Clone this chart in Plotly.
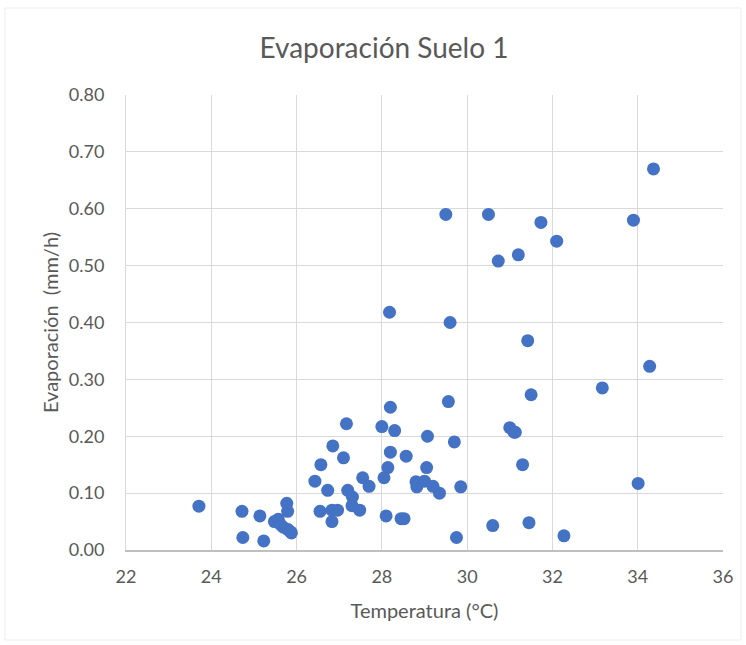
import plotly.graph_objects as go

temperatura = [23.71, 24.72, 24.74, 25.14, 25.23, 25.48, 25.57, 25.62, 25.69, 25.80, 25.86,
               25.77, 25.79, 25.88, 26.43, 26.57, 26.55, 26.73, 26.83, 26.83, 26.85, 26.96,
               27.10, 27.17, 27.20, 27.30, 27.31, 27.48, 27.55, 27.70, 28.00, 28.05, 28.14,
               28.10, 28.18, 28.20, 28.20, 28.30, 28.45, 28.52, 28.57, 28.80, 28.82, 29.00,
               29.05, 29.07, 29.20, 29.35, 29.50, 29.56, 29.60, 29.70, 29.75, 29.85, 30.50,
               30.60, 30.73, 31.00, 31.10, 31.13, 31.20, 31.30, 31.42, 31.45, 31.50, 31.73,
               32.10, 32.27, 33.17, 33.90, 34.01, 34.28, 34.37]
evaporacion = [0.077, 0.068, 0.022, 0.060, 0.016, 0.050, 0.054, 0.045, 0.040, 0.036, 0.032,
               0.082, 0.068, 0.030, 0.121, 0.150, 0.068, 0.105, 0.070, 0.050, 0.183, 0.070,
               0.162, 0.222, 0.105, 0.078, 0.093, 0.070, 0.127, 0.112, 0.217, 0.127, 0.145,
               0.060, 0.418, 0.251, 0.172, 0.210, 0.055, 0.055, 0.165, 0.120, 0.111, 0.121,
               0.145, 0.200, 0.112, 0.100, 0.590, 0.261, 0.400, 0.190, 0.022, 0.111, 0.590,
               0.043, 0.508, 0.215, 0.207, 0.207, 0.519, 0.150, 0.368, 0.048, 0.273, 0.576,
               0.543, 0.025, 0.285, 0.580, 0.117, 0.323, 0.670]

x_ticks = [22, 24, 26, 28, 30, 32, 34, 36]
y_ticks = [0.0, 0.1, 0.2, 0.3, 0.4, 0.5, 0.6, 0.7, 0.8]

font_family = "Lato, 'Open Sans', sans-serif"
grey = "#595959"

fig = go.Figure()
fig.add_trace(go.Scatter(
    x=temperatura, y=evaporacion, mode="markers",
    marker=dict(color="#4472C4", size=13, line=dict(width=0)),
    showlegend=False,
))

fig.update_layout(
    width=746, height=645,
    margin=dict(l=126, r=23, t=95, b=95),
    paper_bgcolor="white", plot_bgcolor="white",
    font=dict(family=font_family, color=grey, size=18),
    title=dict(text="Evaporación Suelo 1", x=384 / 746, xanchor="center",
               y=1 - 48 / 645, yanchor="middle",
               font=dict(size=28, color=grey, family=font_family)),
    xaxis=dict(range=[22, 36], tickvals=x_ticks, showgrid=True, gridcolor="#d9d9d9",
               gridwidth=1, zeroline=False, showline=True, linecolor="#bfbfbf", linewidth=1.5,
               ticks="", ticklabelstandoff=10, tickfont=dict(size=18, color=grey),
               title=dict(text="Temperatura (°C)", font=dict(size=20, color=grey), standoff=18)),
    yaxis=dict(range=[0, 0.8], tickvals=y_ticks, tickformat=".2f", showgrid=True,
               gridcolor="#d9d9d9", gridwidth=1, zeroline=False, showline=True,
               linecolor="#d9d9d9", linewidth=1,
               ticks="", ticklabelstandoff=17, tickfont=dict(size=18, color=grey),
               title=dict(text="Evaporación  (mm/h)", font=dict(size=20, color=grey), standoff=4)),
)

fig.add_shape(type="rect", xref="paper", yref="paper",
              x0=(5 - 126) / 597, x1=(741 - 126) / 597,
              y0=(645 - 95 - 640) / 455, y1=(645 - 95 - 8) / 455,
              line=dict(color="#ededed", width=1), layer="below")

fig.write_html("out.html")
